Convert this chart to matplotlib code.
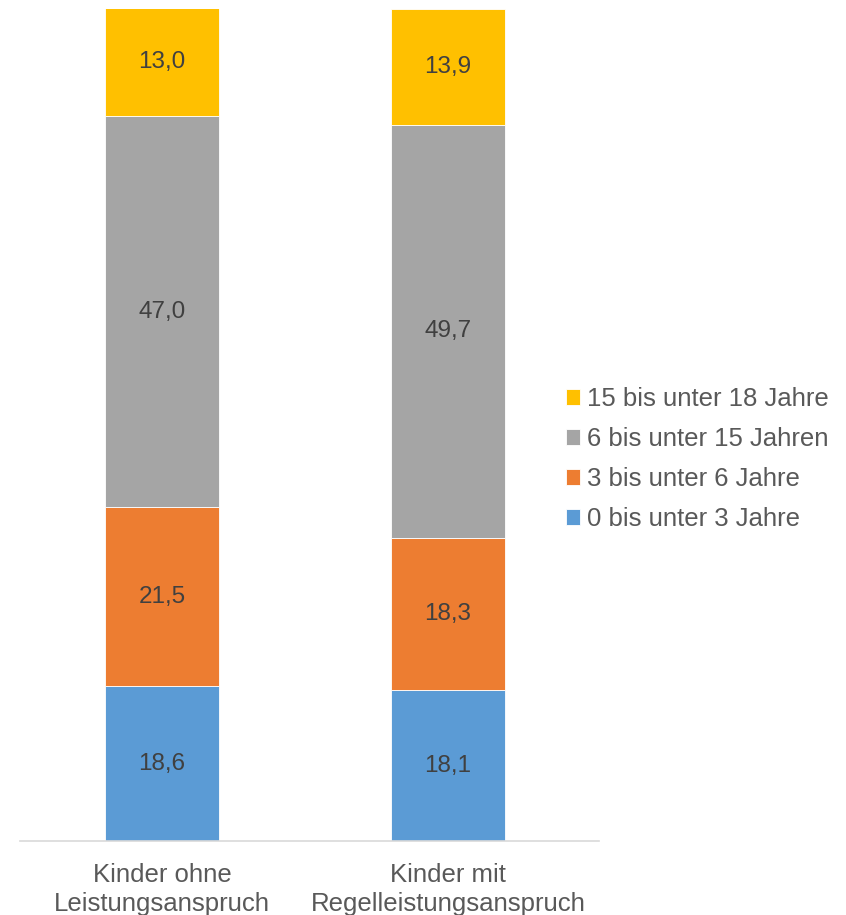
import matplotlib
matplotlib.use('Agg')
import matplotlib.pyplot as plt
import numpy as np

plt.rcParams['font.family'] = ['Liberation Sans', 'DejaVu Sans']

categories = ['Kinder ohne\nLeistungsanspruch', 'Kinder mit\nRegelleistungsanspruch']
series_names = ['0 bis unter 3 Jahre', '3 bis unter 6 Jahre',
                '6 bis unter 15 Jahren', '15 bis unter 18 Jahre']
values = {
    '0 bis unter 3 Jahre': [18.6, 18.1],
    '3 bis unter 6 Jahre': [21.5, 18.3],
    '6 bis unter 15 Jahren': [47.0, 49.7],
    '15 bis unter 18 Jahre': [13.0, 13.9],
}
colors = ['#5B9BD5', '#ED7D31', '#A5A5A5', '#FFC000']

fig = plt.figure(figsize=(8.46, 9.15), dpi=100)
ax = fig.add_axes([20 / 846, 1 - 841 / 915, 579 / 846, 832 / 915])

x = np.arange(len(categories))
bottom = np.zeros(len(categories))
handles = []
for name, col in zip(series_names, colors):
    vals = np.array(values[name])
    bars = ax.bar(x, vals, width=0.4, bottom=bottom, color=col,
                  edgecolor='white', linewidth=0.6)
    handles.append(bars)
    for xi, b, v in zip(x, bottom, vals):
        ax.text(xi, b + v / 2, f'{v:.1f}'.replace('.', ','), ha='center', va='center',
                fontsize=17.5, color='#404040')
    bottom += vals

ax.set_xlim(-0.4965, 1.528)
ax.set_ylim(0, 100)
ax.set_yticks([])
ax.set_xticks(x)
ax.set_xticklabels(categories, fontsize=18.5, color='#595959', linespacing=1.25)
ax.tick_params(axis='x', length=0, pad=16)
for s in ['top', 'right', 'left']:
    ax.spines[s].set_visible(False)
ax.spines['bottom'].set_color('#D9D9D9')
ax.spines['bottom'].set_linewidth(1.2)

leg = fig.legend(handles[::-1], series_names[::-1], loc='center left',
                 bbox_to_anchor=(566 / 846, 1 - 459 / 915), frameon=False,
                 fontsize=18.5, handlelength=0.55, handleheight=0.55,
                 handletextpad=0.25, labelspacing=0.62, borderaxespad=0,
                 borderpad=0)
for t in leg.get_texts():
    t.set_color('#595959')

fig.savefig('out.png', dpi=100)
